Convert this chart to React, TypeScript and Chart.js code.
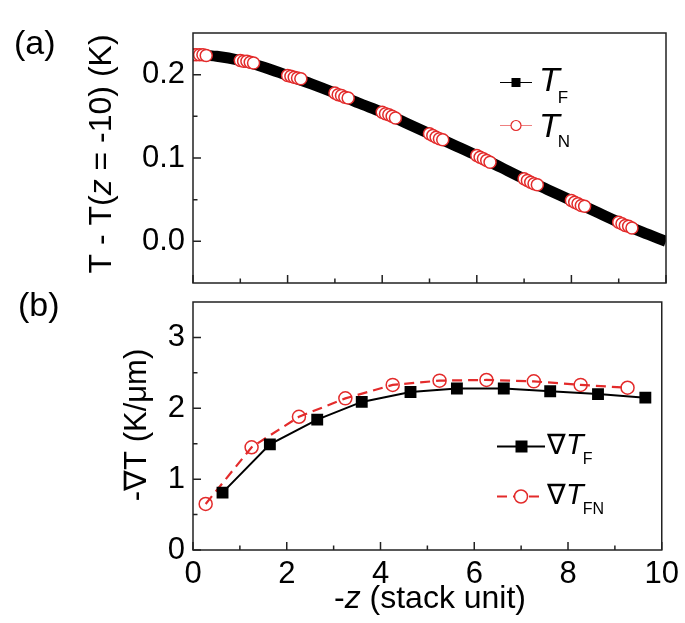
import React, { useEffect, useRef } from "react";
import { Chart, registerables } from "chart.js";

Chart.register(...registerables);

const FONT = "'Liberation Sans', Arial, Helvetica, sans-serif";
const RED = "#e32b2b";

// ---------- Panel (a) ----------
const zF = [0, 0.5, 1, 1.5, 2, 2.5, 3, 3.5, 4, 4.5, 5, 5.5, 6, 6.5, 7, 7.5, 8, 8.5, 9, 9.5, 10];
const tF = [0.224, 0.222, 0.217, 0.209, 0.199, 0.189, 0.178, 0.166, 0.155, 0.142, 0.129, 0.116, 0.103, 0.089, 0.075, 0.062, 0.049, 0.036, 0.023, 0.011, 0.0];

const zN = [
  0, 0.07, 0.14, 0.21, 0.28,
  1, 1.07, 1.14, 1.21, 1.28,
  2, 2.07, 2.14, 2.21, 2.28,
  3, 3.07, 3.14, 3.21, 3.28,
  4, 4.07, 4.14, 4.21, 4.28,
  5, 5.07, 5.14, 5.21, 5.28,
  6, 6.07, 6.14, 6.21, 6.28,
  7, 7.07, 7.14, 7.21, 7.28,
  8, 8.07, 8.14, 8.21, 8.28,
  9, 9.07, 9.14, 9.21, 9.28,
];
const tN = [
  0.224, 0.224, 0.224, 0.224, 0.223,
  0.217, 0.216, 0.216, 0.215, 0.214,
  0.199, 0.198, 0.197, 0.196, 0.195,
  0.178, 0.176, 0.175, 0.173, 0.172,
  0.155, 0.153, 0.152, 0.150, 0.148,
  0.129, 0.127, 0.125, 0.123, 0.122,
  0.103, 0.101, 0.099, 0.097, 0.095,
  0.075, 0.073, 0.071, 0.069, 0.068,
  0.049, 0.047, 0.045, 0.043, 0.042,
  0.023, 0.021, 0.019, 0.018, 0.016,
];

// ---------- Panel (b) ----------
const zGradF = [0.63, 1.64, 2.65, 3.6, 4.64, 5.63, 6.63, 7.62, 8.64, 9.65];
const gradF = [0.81, 1.49, 1.84, 2.09, 2.23, 2.28, 2.28, 2.24, 2.2, 2.15];
const zGradFN = [0.27, 1.25, 2.26, 3.25, 4.26, 5.26, 6.26, 7.27, 8.27, 9.27];
const gradFN = [0.65, 1.45, 1.88, 2.14, 2.33, 2.39, 2.4, 2.38, 2.33, 2.29];

// ---------- ticks ----------
const xMajor = [0, 2, 4, 6, 8, 10];
const xMinor = [1, 3, 5, 7, 9];
const yMajorA = [0.0, 0.1, 0.2];
const yMinorA = [0.05, 0.15];
const yMajorB = [0, 1, 2, 3];
const yMinorB = [0.5, 1.5, 2.5];

type Seg = { t: string; font: string; dy?: number; dx?: number };

function segWidth(ctx: CanvasRenderingContext2D, segs: Seg[]) {
  let w = 0;
  segs.forEach((s) => {
    ctx.font = s.font;
    w += ctx.measureText(s.t).width + (s.dx || 0);
  });
  return w;
}

function drawSegs(ctx: CanvasRenderingContext2D, segs: Seg[], x: number, y: number, center: boolean) {
  let cx = center ? x - segWidth(ctx, segs) / 2 : x;
  ctx.textAlign = "left";
  ctx.textBaseline = "alphabetic";
  segs.forEach((s) => {
    ctx.font = s.font;
    ctx.fillText(s.t, cx + (s.dx || 0), y + (s.dy || 0));
    cx += ctx.measureText(s.t).width + (s.dx || 0);
  });
}

function frameAndTicks(chart: any, yMajor: number[], yMinor: number[]) {
  const ctx = chart.ctx as CanvasRenderingContext2D;
  const a = chart.chartArea;
  const xs = chart.scales.x;
  const ys = chart.scales.y;
  ctx.save();
  ctx.strokeStyle = "#222";
  ctx.lineWidth = 1.5;
  ctx.strokeRect(a.left, a.top, a.right - a.left, a.bottom - a.top);
  ctx.beginPath();
  xMajor.forEach((v) => {
    const px = xs.getPixelForValue(v);
    ctx.moveTo(px, a.bottom);
    ctx.lineTo(px, a.bottom - 8);
  });
  xMinor.forEach((v) => {
    const px = xs.getPixelForValue(v);
    ctx.moveTo(px, a.bottom);
    ctx.lineTo(px, a.bottom - 4.5);
  });
  yMajor.forEach((v) => {
    const py = ys.getPixelForValue(v);
    ctx.moveTo(a.left, py);
    ctx.lineTo(a.left + 8, py);
  });
  yMinor.forEach((v) => {
    const py = ys.getPixelForValue(v);
    ctx.moveTo(a.left, py);
    ctx.lineTo(a.left + 4.5, py);
  });
  ctx.stroke();
  ctx.restore();
}

const decorA = {
  id: "decorA",
  afterDraw(chart: any) {
    const ctx = chart.ctx as CanvasRenderingContext2D;
    frameAndTicks(chart, yMajorA, yMinorA);
    ctx.save();
    ctx.fillStyle = "#000";
    // panel label
    drawSegs(ctx, [{ t: "(a)", font: `34px ${FONT}` }], 14, 54, false);
    // y title
    ctx.save();
    ctx.translate(111, 154);
    ctx.rotate(-Math.PI / 2);
    drawSegs(
      ctx,
      [
        { t: "T - T(", font: `32px ${FONT}` },
        { t: "z", font: `italic 32px ${FONT}` },
        { t: " = -10) (K)", font: `32px ${FONT}` },
      ],
      0,
      0,
      true
    );
    ctx.restore();
    // legend
    ctx.lineWidth = 1;
    ctx.strokeStyle = "#000";
    ctx.beginPath();
    ctx.moveTo(500, 82.5);
    ctx.lineTo(532, 82.5);
    ctx.stroke();
    ctx.fillRect(511.5, 78, 9, 9);
    ctx.strokeStyle = RED;
    ctx.globalAlpha = 0.6;
    ctx.beginPath();
    ctx.moveTo(500, 125.5);
    ctx.lineTo(532, 125.5);
    ctx.stroke();
    ctx.globalAlpha = 1;
    ctx.beginPath();
    ctx.arc(516, 125.5, 5, 0, Math.PI * 2);
    ctx.fillStyle = "#fff";
    ctx.fill();
    ctx.lineWidth = 1.2;
    ctx.stroke();
    ctx.fillStyle = "#000";
    drawSegs(
      ctx,
      [
        { t: "T", font: `italic 34px ${FONT}` },
        { t: "F", font: `17px ${FONT}`, dy: 12, dx: -2 },
      ],
      539,
      91,
      false
    );
    drawSegs(
      ctx,
      [
        { t: "T", font: `italic 34px ${FONT}` },
        { t: "N", font: `17px ${FONT}`, dy: 10, dx: -2 },
      ],
      539,
      137,
      false
    );
    ctx.restore();
  },
};

const decorB = {
  id: "decorB",
  afterDraw(chart: any) {
    const ctx = chart.ctx as CanvasRenderingContext2D;
    frameAndTicks(chart, yMajorB, yMinorB);
    ctx.save();
    ctx.fillStyle = "#000";
    drawSegs(ctx, [{ t: "(b)", font: `34px ${FONT}` }], 18, 316, false);
    // y title
    ctx.save();
    ctx.translate(146, 425);
    ctx.rotate(-Math.PI / 2);
    drawSegs(ctx, [{ t: "-\u2207T (K/\u03bcm)", font: `31px ${FONT}` }], 0, 0, true);
    ctx.restore();
    // x title
    drawSegs(
      ctx,
      [
        { t: "-", font: `32px ${FONT}` },
        { t: "z", font: `italic 32px ${FONT}` },
        { t: " (stack unit)", font: `32px ${FONT}` },
      ],
      430,
      608,
      true
    );
    // legend
    ctx.strokeStyle = "#000";
    ctx.lineWidth = 2;
    ctx.beginPath();
    ctx.moveTo(497, 446.5);
    ctx.lineTo(545, 446.5);
    ctx.stroke();
    ctx.fillRect(515.5, 440.5, 12, 12);
    ctx.strokeStyle = RED;
    ctx.setLineDash([10, 6]);
    ctx.beginPath();
    ctx.moveTo(497, 496.5);
    ctx.lineTo(545, 496.5);
    ctx.stroke();
    ctx.setLineDash([]);
    ctx.beginPath();
    ctx.arc(521, 496.5, 6.5, 0, Math.PI * 2);
    ctx.fillStyle = "#fff";
    ctx.fill();
    ctx.lineWidth = 1.5;
    ctx.stroke();
    ctx.fillStyle = "#000";
    drawSegs(
      ctx,
      [
        { t: "\u2207", font: `28px ${FONT}` },
        { t: "T", font: `italic 29px ${FONT}` },
        { t: "F", font: `16px ${FONT}`, dy: 10, dx: -1 },
      ],
      547,
      454,
      false
    );
    drawSegs(
      ctx,
      [
        { t: "\u2207", font: `28px ${FONT}` },
        { t: "T", font: `italic 29px ${FONT}` },
        { t: "FN", font: `16px ${FONT}`, dy: 10, dx: -1 },
      ],
      547,
      504,
      false
    );
    ctx.restore();
  },
};

const W = 685;
const H = 623;

function App() {
  const refA = useRef<HTMLCanvasElement | null>(null);
  const refB = useRef<HTMLCanvasElement | null>(null);

  useEffect(() => {
    if (!refA.current || !refB.current) return;
    const tickFont = { family: FONT, size: 31 };

    const chartA = new Chart(refA.current, {
      type: "line",
      data: {
        datasets: [
          {
            label: "T_N",
            data: zN.map((x, i) => ({ x, y: tN[i] })),
            showLine: false,
            pointStyle: "circle",
            pointRadius: 6,
            pointBorderWidth: 1.5,
            pointBorderColor: RED,
            pointBackgroundColor: "#ffffff",
            borderColor: RED,
            backgroundColor: "#ffffff",
            order: 0,
          },
          {
            label: "T_F",
            data: zF.map((x, i) => ({ x, y: tF[i] })),
            borderColor: "#000",
            borderWidth: 11,
            pointRadius: 0,
            cubicInterpolationMode: "monotone",
            borderCapStyle: "butt",
            fill: false,
            order: 1,
          },
        ] as any,
      },
      options: {
        animation: false,
        responsive: false,
        events: [],
        layout: { padding: { left: 0, right: 19, top: 33, bottom: H - 300 } },
        plugins: { legend: { display: false }, tooltip: { enabled: false } },
        scales: {
          x: {
            type: "linear",
            min: 0,
            max: 10,
            ticks: { display: false },
            grid: { display: false, drawTicks: false },
            border: { display: false },
            afterFit: (s: any) => {
              s.height = 17;
            },
          },
          y: {
            type: "linear",
            min: -0.05,
            max: 0.25,
            afterBuildTicks: (s: any) => {
              s.ticks = yMajorA.map((v) => ({ value: v }));
            },
            ticks: {
              font: tickFont,
              color: "#000",
              padding: 8,
              callback: (v: any) => Number(v).toFixed(1),
            },
            grid: { display: false, drawTicks: false },
            border: { display: false },
            afterFit: (s: any) => {
              s.width = 193;
            },
          },
        },
      } as any,
      plugins: [decorA],
    });

    const chartB = new Chart(refB.current, {
      type: "line",
      data: {
        datasets: [
          {
            label: "gradT_F",
            data: zGradF.map((x, i) => ({ x, y: gradF[i] })),
            borderColor: "#000",
            borderWidth: 2,
            pointStyle: "rect",
            pointRadius: 8.4,
            pointBorderWidth: 0,
            pointBackgroundColor: "#000",
            backgroundColor: "#000",
            fill: false,
            order: 0,
          },
          {
            label: "gradT_FN",
            data: zGradFN.map((x, i) => ({ x, y: gradFN[i] })),
            borderColor: RED,
            borderWidth: 2.2,
            borderDash: [10, 6],
            pointStyle: "circle",
            pointRadius: 6.5,
            pointBorderWidth: 1.5,
            pointBorderColor: RED,
            pointBackgroundColor: "rgba(255,255,255,0)",
            backgroundColor: "rgba(255,255,255,0)",
            fill: false,
            order: 1,
          },
        ] as any,
      },
      options: {
        animation: false,
        responsive: false,
        events: [],
        layout: { padding: { left: 0, right: 19, top: 302, bottom: 0 } },
        plugins: { legend: { display: false }, tooltip: { enabled: false } },
        scales: {
          x: {
            type: "linear",
            min: 0,
            max: 10,
            afterBuildTicks: (s: any) => {
              s.ticks = xMajor.map((v) => ({ value: v }));
            },
            ticks: { font: tickFont, color: "#000", padding: 6, maxRotation: 0 },
            grid: { display: false, drawTicks: false },
            border: { display: false },
            afterFit: (s: any) => {
              s.height = H - 550;
            },
          },
          y: {
            type: "linear",
            min: 0,
            max: 3.5,
            afterBuildTicks: (s: any) => {
              s.ticks = yMajorB.map((v) => ({ value: v }));
            },
            ticks: { font: tickFont, color: "#000", padding: 8 },
            grid: { display: false, drawTicks: false },
            border: { display: false },
            afterFit: (s: any) => {
              s.width = 193;
            },
          },
        },
      } as any,
      plugins: [decorB],
    });

    return () => {
      chartA.destroy();
      chartB.destroy();
    };
  }, []);

  const canvasStyle: React.CSSProperties = {
    position: "absolute",
    left: 0,
    top: 0,
    width: W,
    height: H,
  };

  return (
    <div style={{ position: "absolute", left: 0, top: 0, width: W, height: H, background: "#fff" }}>
      <canvas ref={refA} width={W} height={H} style={canvasStyle} />
      <canvas ref={refB} width={W} height={H} style={canvasStyle} />
    </div>
  );
}

export default App;
